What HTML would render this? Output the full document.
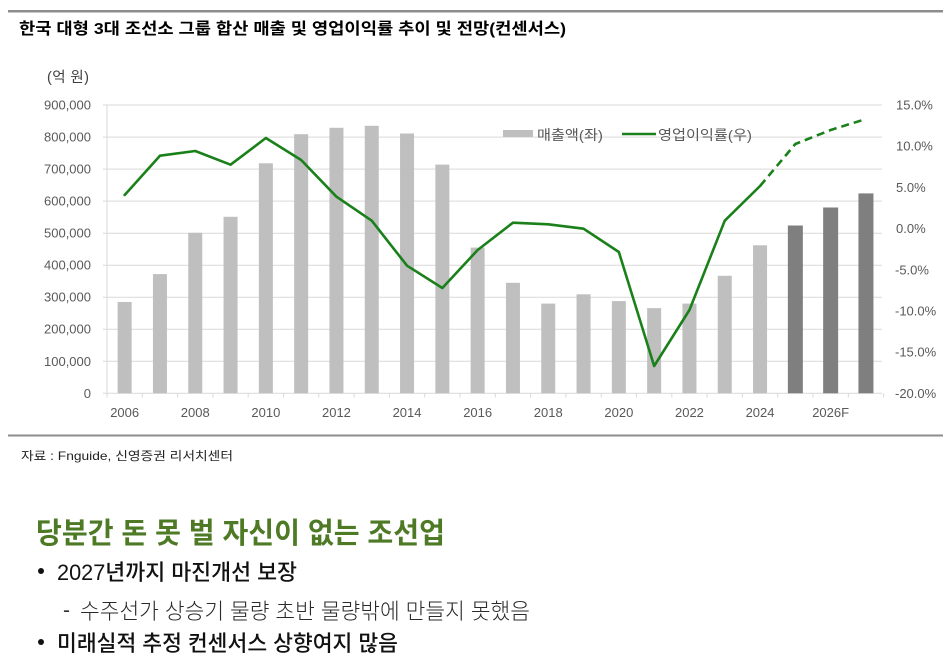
<!DOCTYPE html>
<html><head><meta charset="utf-8"><style>
html,body{margin:0;padding:0;background:#fff;}
svg{display:block;}
text{font-family:"Liberation Sans","Noto Sans CJK KR",sans-serif;}
</style></head><body>
<svg width="943" height="662" viewBox="0 0 943 662" xmlns="http://www.w3.org/2000/svg">
<rect x="0" y="0" width="943" height="662" fill="#fff"/>
<!-- top rule -->
<rect x="8" y="10" width="935" height="2.5" fill="#8c8c8c"/>
<text x="19" y="34" font-size="16" font-weight="bold" fill="#000" textLength="547" lengthAdjust="spacingAndGlyphs">한국 대형 3대 조선소 그룹 합산 매출 및 영업이익률 추이 및 전망(컨센서스)</text>
<text x="47" y="82" font-size="14.5" fill="#404040" textLength="42" lengthAdjust="spacing">(억 원)</text>

<!-- gridlines -->
<g stroke="#d9d9d9" stroke-width="1">
<line x1="103" y1="105" x2="882" y2="105"/>
<line x1="103" y1="137.1" x2="882" y2="137.1"/>
<line x1="103" y1="169.1" x2="882" y2="169.1"/>
<line x1="103" y1="201.1" x2="882" y2="201.1"/>
<line x1="103" y1="233.2" x2="882" y2="233.2"/>
<line x1="103" y1="265.2" x2="882" y2="265.2"/>
<line x1="103" y1="297.2" x2="882" y2="297.2"/>
<line x1="103" y1="329.2" x2="882" y2="329.2"/>
<line x1="103" y1="361.3" x2="882" y2="361.3"/>
<line x1="103" y1="393.3" x2="882" y2="393.3"/>
<line x1="107" y1="105" x2="107" y2="397.5"/>
</g>
<!-- ticks -->
<g stroke="#d9d9d9" stroke-width="1">
<line x1="142.3" y1="393.3" x2="142.3" y2="397.5"/>
<line x1="177.6" y1="393.3" x2="177.6" y2="397.5"/>
<line x1="212.9" y1="393.3" x2="212.9" y2="397.5"/>
<line x1="248.2" y1="393.3" x2="248.2" y2="397.5"/>
<line x1="283.5" y1="393.3" x2="283.5" y2="397.5"/>
<line x1="318.8" y1="393.3" x2="318.8" y2="397.5"/>
<line x1="354.1" y1="393.3" x2="354.1" y2="397.5"/>
<line x1="389.4" y1="393.3" x2="389.4" y2="397.5"/>
<line x1="424.7" y1="393.3" x2="424.7" y2="397.5"/>
<line x1="460" y1="393.3" x2="460" y2="397.5"/>
<line x1="495.3" y1="393.3" x2="495.3" y2="397.5"/>
<line x1="530.6" y1="393.3" x2="530.6" y2="397.5"/>
<line x1="565.9" y1="393.3" x2="565.9" y2="397.5"/>
<line x1="601.2" y1="393.3" x2="601.2" y2="397.5"/>
<line x1="636.5" y1="393.3" x2="636.5" y2="397.5"/>
<line x1="671.8" y1="393.3" x2="671.8" y2="397.5"/>
<line x1="707.1" y1="393.3" x2="707.1" y2="397.5"/>
<line x1="742.4" y1="393.3" x2="742.4" y2="397.5"/>
<line x1="777.7" y1="393.3" x2="777.7" y2="397.5"/>
<line x1="813" y1="393.3" x2="813" y2="397.5"/>
<line x1="848.3" y1="393.3" x2="848.3" y2="397.5"/>
<line x1="883.6" y1="393.3" x2="883.6" y2="397.5"/>
</g>

<!-- bars -->
<g fill="#bfbfbf">
<rect x="117.65" y="302.0" width="14" height="91.3"/>
<rect x="152.95" y="274.1" width="14" height="119.2"/>
<rect x="188.25" y="232.8" width="14" height="160.5"/>
<rect x="223.55" y="216.8" width="14" height="176.5"/>
<rect x="258.85" y="163.3" width="14" height="230.0"/>
<rect x="294.15" y="134.2" width="14" height="259.1"/>
<rect x="329.45" y="127.8" width="14" height="265.5"/>
<rect x="364.75" y="125.8" width="14" height="267.5"/>
<rect x="400.05" y="133.5" width="14" height="259.8"/>
<rect x="435.35" y="164.6" width="14" height="228.7"/>
<rect x="470.65" y="247.6" width="14" height="145.7"/>
<rect x="505.95" y="282.8" width="14" height="110.5"/>
<rect x="541.25" y="303.6" width="14" height="89.7"/>
<rect x="576.55" y="294.3" width="14" height="99.0"/>
<rect x="611.85" y="301.1" width="14" height="92.2"/>
<rect x="647.15" y="308.1" width="14" height="85.2"/>
<rect x="682.45" y="303.6" width="14" height="89.7"/>
<rect x="717.75" y="275.8" width="14" height="117.5"/>
<rect x="753.05" y="245.3" width="14" height="148.0"/>
</g>
<g fill="#7f7f7f">
<rect x="787.85" y="225.5" width="15" height="167.8"/>
<rect x="823.15" y="207.5" width="15" height="185.8"/>
<rect x="858.45" y="193.4" width="15" height="199.9"/>
</g>

<!-- line -->
<polyline fill="none" stroke="#1a801a" stroke-width="2.6" stroke-linejoin="round" stroke-linecap="round"
 points="124.65,195 159.95,155.7 195.25,151 230.55,164.7 265.85,138 301.15,160 336.45,196.7 371.75,220.7 407.05,265.7 442.35,288 477.65,250 512.95,222.7 548.25,224.3 583.55,228.7 618.85,252 654.15,366 689.45,310 724.75,220.7 760.05,186"/>
<polyline fill="none" stroke="#1a801a" stroke-width="2.6" stroke-dasharray="8 5" stroke-linejoin="round"
 points="760.05,186 795.35,144 830.65,130 865.95,119"/>

<!-- left axis labels -->
<g font-size="13" fill="#595959" text-anchor="end">
<text x="91" y="109.5">900,000</text>
<text x="91" y="141.6">800,000</text>
<text x="91" y="173.6">700,000</text>
<text x="91" y="205.6">600,000</text>
<text x="91" y="237.7">500,000</text>
<text x="91" y="269.7">400,000</text>
<text x="91" y="301.7">300,000</text>
<text x="91" y="333.7">200,000</text>
<text x="91" y="365.8">100,000</text>
<text x="91" y="397.8">0</text>
</g>
<!-- right axis labels -->
<g font-size="13" fill="#595959">
<text x="896" y="109.5">15.0%</text>
<text x="896" y="150.7">10.0%</text>
<text x="896" y="191.9">5.0%</text>
<text x="896" y="233">0.0%</text>
<text x="895" y="274.3">-5.0%</text>
<text x="895" y="315.4">-10.0%</text>
<text x="895" y="356.6">-15.0%</text>
<text x="895" y="397.8">-20.0%</text>
</g>
<!-- x labels -->
<g font-size="13" fill="#595959" text-anchor="middle">
<text x="124.65" y="417">2006</text>
<text x="195.25" y="417">2008</text>
<text x="265.85" y="417">2010</text>
<text x="336.45" y="417">2012</text>
<text x="407.05" y="417">2014</text>
<text x="477.65" y="417">2016</text>
<text x="548.25" y="417">2018</text>
<text x="618.85" y="417">2020</text>
<text x="689.45" y="417">2022</text>
<text x="760.05" y="417">2024</text>
<text x="830.65" y="417">2026F</text>
</g>

<!-- legend -->
<rect x="503" y="130" width="30" height="7" fill="#bfbfbf"/>
<text x="537" y="140" font-size="14" fill="#595959" textLength="66" lengthAdjust="spacingAndGlyphs">매출액(좌)</text>
<line x1="622" y1="134" x2="656" y2="134" stroke="#1a801a" stroke-width="2.6"/>
<text x="658" y="140" font-size="14" fill="#595959" textLength="94" lengthAdjust="spacingAndGlyphs">영업이익률(우)</text>

<!-- bottom rule -->
<rect x="8" y="434.5" width="935" height="2" fill="#8c8c8c"/>
<text x="21" y="460" font-size="12" fill="#222" textLength="212" lengthAdjust="spacingAndGlyphs">자료 : Fnguide, 신영증권 리서치센터</text>

<!-- commentary -->
<text x="36" y="543" font-size="29" font-weight="bold" fill="#4e7a26" textLength="409" lengthAdjust="spacingAndGlyphs">당분간 돈 못 벌 자신이 없는 조선업</text>
<circle cx="41" cy="571" r="3" fill="#111"/>
<text x="57" y="580" font-size="22" font-weight="500" fill="#111" textLength="240" lengthAdjust="spacingAndGlyphs">2027년까지 마진개선 보장</text>
<text x="63" y="617" font-size="21" fill="#333">-</text>
<text x="80" y="619" font-size="22" fill="#2a2a2a" font-weight="300" textLength="450" lengthAdjust="spacingAndGlyphs">수주선가 상승기 물량 초반 물량밖에 만들지 못했음</text>
<circle cx="41" cy="642" r="3" fill="#111"/>
<text x="57" y="651" font-size="22" font-weight="500" fill="#111" textLength="341" lengthAdjust="spacingAndGlyphs">미래실적 추정 컨센서스 상향여지 많음</text>
</svg>
</body></html>
